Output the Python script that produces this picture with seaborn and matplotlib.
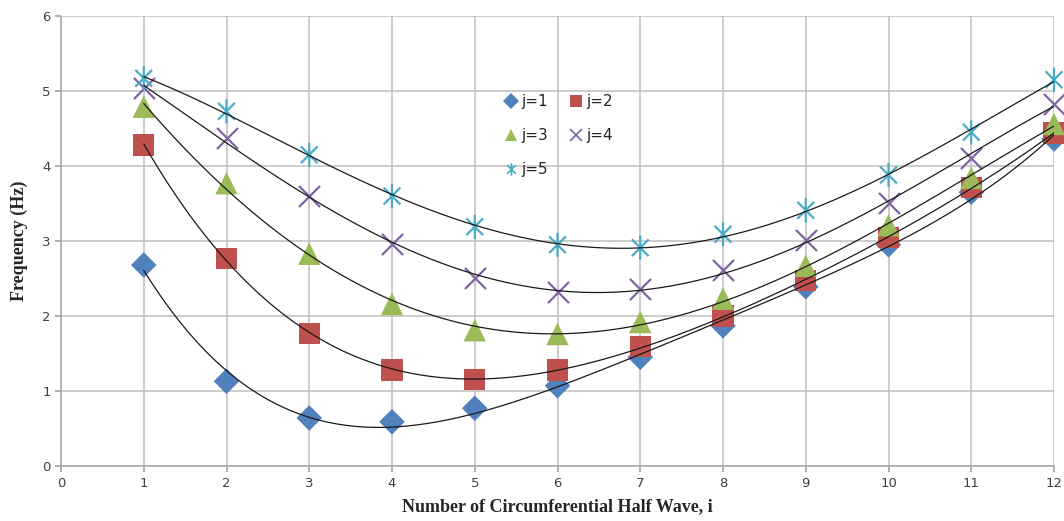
import numpy as np
import pandas as pd
import matplotlib
matplotlib.use("Agg")
import matplotlib.pyplot as plt
from matplotlib.path import Path
import seaborn as sns

# Natural frequencies per circumferential half-wave number i, for j = 1..5
half_wave = [1, 2, 3, 4, 5, 6, 7, 8, 9, 10, 11, 12]
freq_j1 = [2.68, 1.13, 0.64, 0.59, 0.77, 1.07, 1.45, 1.87, 2.39, 2.95, 3.65, 4.36]
freq_j2 = [4.28, 2.77, 1.77, 1.28, 1.15, 1.28, 1.59, 2.00, 2.47, 3.05, 3.71, 4.44]
freq_j3 = [4.79, 3.77, 2.83, 2.16, 1.81, 1.76, 1.92, 2.23, 2.67, 3.21, 3.84, 4.56]
freq_j4 = [5.04, 4.37, 3.60, 2.96, 2.51, 2.32, 2.36, 2.61, 3.01, 3.51, 4.11, 4.83]
freq_j5 = [5.17, 4.73, 4.15, 3.60, 3.19, 2.95, 2.91, 3.09, 3.41, 3.88, 4.45, 5.15]
series_labels = ["j=1", "j=2", "j=3", "j=4", "j=5"]
x_ticks = list(range(0, 13))
y_ticks = list(range(0, 7))

series_values = [freq_j1, freq_j2, freq_j3, freq_j4, freq_j5]
df = pd.DataFrame({
    "i": half_wave * len(series_labels),
    "freq": sum(series_values, []),
    "series": sum([[lab] * len(half_wave) for lab in series_labels], []),
})

# Six-spoke asterisk marker
asterisk = Path(
    [(-0.7, -0.7), (0.7, 0.7), (-0.7, 0.7), (0.7, -0.7), (0, -1), (0, 1)],
    [Path.MOVETO, Path.LINETO, Path.MOVETO, Path.LINETO, Path.MOVETO, Path.LINETO],
)

colors = ["#4F81BD", "#C0504D", "#9BBB59", "#8064A2", "#4BACC6"]
markers = ["D", "s", "^", "x", asterisk]
sizes = [170, 230, 260, 230, 300]
marker_kind = ["filled", "filled", "filled", "line", "path"]

sns.set_theme(style="white")
plt.rcParams["font.family"] = ["DejaVu Sans"]

fig = plt.figure(figsize=(10.64, 5.21), dpi=100)
ax = fig.add_axes([61 / 1064, 55 / 521, 993 / 1064, 450 / 521])

handles = {}
for lab, vals, col, mk, sz, kind in zip(series_labels, series_values, colors,
                                        markers, sizes, marker_kind):
    sub = df[df["series"] == lab]
    if kind == "filled":
        kw = dict(edgecolor="none")
    elif kind == "line":
        kw = dict(linewidths=1.6)
    else:
        kw = dict(edgecolor=col, facecolor="none", linewidths=1.6)
    sns.scatterplot(data=sub, x="i", y="freq", ax=ax, color=col, marker=mk,
                    s=sz, zorder=3, legend=False, clip_on=False, **kw)
    # Polynomial trendline through the series
    coef = np.polyfit(half_wave, vals, 4)
    xs = np.linspace(min(half_wave), max(half_wave), 300)
    sns.lineplot(x=xs, y=np.polyval(coef, xs), ax=ax, color="#1a1a1a",
                 linewidth=0.9, zorder=4, legend=False)
    filled = kind == "filled"
    handles[lab] = plt.Line2D([], [], linestyle="none", marker=mk, color=col,
                              markerfacecolor=col if filled else "none",
                              markeredgecolor="none" if filled else col,
                              markersize=8 if filled else 9,
                              markeredgewidth=1.2)

order = ["j=1", "j=3", "j=5", "j=2", "j=4"]
leg = ax.legend([handles[k] for k in order], order, ncol=2, frameon=False,
                loc="upper left", bbox_to_anchor=(0.43, 0.857),
                fontsize=11, handletextpad=0.1, columnspacing=1.2,
                labelspacing=1.25, handlelength=1.2)

ax.set_xlim(0, 12)
ax.set_ylim(0, 6)
ax.set_xticks(x_ticks)
ax.set_yticks(y_ticks)
ax.grid(True, color="#BFBFBF", linewidth=1.1)
ax.set_axisbelow(True)
for side in ("top", "right"):
    ax.spines[side].set_visible(False)
for side in ("left", "bottom"):
    ax.spines[side].set_color("#A6A6A6")
    ax.spines[side].set_linewidth(1.1)
ax.tick_params(axis="both", which="both", direction="out", length=4,
               color="#A6A6A6", labelsize=9.5, labelcolor="#404040",
               bottom=True, left=True)
ax.tick_params(axis="x", pad=4)

ax.set_xlabel("Number of Circumferential Half Wave, i", fontsize=13,
              fontweight="bold", family="Liberation Serif", labelpad=6)
ax.set_ylabel("Frequency (Hz)", fontsize=13, fontweight="bold",
              family="Liberation Serif", labelpad=10)

fig.savefig("out.png", dpi=100)
